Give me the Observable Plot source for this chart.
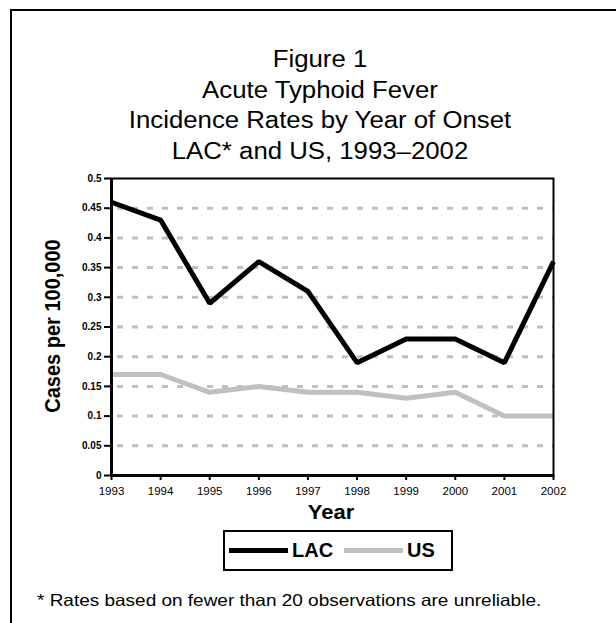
<!DOCTYPE html>
<html>
<head>
<meta charset="utf-8">
<script src="https://cdn.jsdelivr.net/npm/d3@7"></script>
<script src="https://cdn.jsdelivr.net/npm/@observablehq/plot@0.6"></script>
<style>
  html, body { margin: 0; padding: 0; background: #fff; }
  body { width: 616px; height: 623px; overflow: hidden; position: relative; font-family: "Liberation Sans", Arial, sans-serif; }
  #card { position: absolute; left: 10px; top: 9px; width: 640px; height: 640px; border-left: 2px solid #000; border-top: 2px solid #000; box-sizing: border-box; }
  #title { position: absolute; left: 0; width: 640px; top: 44px; text-align: center; font-size: 23px; line-height: 30.5px; color: #000; }
  #title div { transform: scaleX(1.12); transform-origin: 320px 0; }
  #chart { position: absolute; left: 0; top: 0; }
  #ylabel { position: absolute; left: 53px; top: 326px; transform: translate(-50%, -50%) rotate(-90deg) scaleY(1.08); font-weight: bold; font-size: 20px; white-space: nowrap; }
  #xlabel { position: absolute; left: 331px; top: 512px; transform: translate(-50%, -50%) scaleX(1.1); font-weight: bold; font-size: 20px; }
  #legend { position: absolute; left: 223px; top: 530px; width: 230px; height: 41px; border: 2px solid #000; box-sizing: border-box; display: flex; align-items: center; font-weight: bold; font-size: 20px; }
  .sw { display: inline-block; width: 59px; height: 5px; margin-right: 4px; }
  #foot { position: absolute; left: 37px; top: 600px; transform: translateY(-50%) scaleX(1.15); transform-origin: 0 50%; font-size: 16.5px; white-space: nowrap; }
</style>
</head>
<body>
<div id="card"></div>
<div id="chart"></div>
<div id="title"></div>
<div id="ylabel"></div>
<div id="xlabel"></div>
<div id="legend"></div>
<div id="foot"></div>
<script>
const years = [1993, 1994, 1995, 1996, 1997, 1998, 1999, 2000, 2001, 2002];
const lacRates = [0.46, 0.43, 0.29, 0.36, 0.31, 0.19, 0.23, 0.23, 0.19, 0.36];
const usRates = [0.17, 0.17, 0.14, 0.15, 0.14, 0.14, 0.13, 0.14, 0.10, 0.10];
const yTicks = [0, 0.05, 0.1, 0.15, 0.2, 0.25, 0.3, 0.35, 0.4, 0.45, 0.5];
const gridLines = [0.05, 0.1, 0.15, 0.2, 0.25, 0.3, 0.35, 0.4, 0.45];
const seriesNames = ["LAC", "US"];
const seriesColors = ["#000000", "#c0c0c0"];
const titleLines = ["Figure 1", "Acute Typhoid Fever", "Incidence Rates by Year of Onset", "LAC* and US, 1993–2002"];
const yTitle = "Cases per 100,000";
const xTitle = "Year";
const footnote = "* Rates based on fewer than 20 observations are unreliable.";

const rows = [];
years.forEach((y, i) => {
  rows.push({year: y, rate: lacRates[i], series: "LAC"});
  rows.push({year: y, rate: usRates[i], series: "US"});
});

const chart = Plot.plot({
  width: 616,
  height: 623,
  marginLeft: 111,
  marginRight: 63,
  marginTop: 178,
  marginBottom: 148,
  style: {background: "transparent", color: "#000", fontFamily: "Liberation Sans, Arial, sans-serif"},
  x: {domain: [1993, 2002]},
  y: {domain: [0, 0.5]},
  color: {domain: seriesNames, range: seriesColors},
  marks: [
    Plot.ruleY(gridLines, {x1: 1993, x2: 2001.88, stroke: "#c0c0c0", strokeWidth: 3, strokeDasharray: "6,9", dx: 6}),
    Plot.line(rows, {x: "year", y: "rate", z: "series", stroke: "series", strokeWidth: 5, strokeLinejoin: "miter", strokeLinecap: "butt"}),
    Plot.frame({stroke: "#000", strokeWidth: 2}),
    Plot.ruleX([1993], {stroke: "#000", strokeWidth: 3}),
    Plot.ruleY([0], {stroke: "#000", strokeWidth: 3}),
    Plot.axisY({ticks: yTicks, tickFormat: d => String(d), tickSize: 7, tickPadding: 3, fontSize: 10, fontWeight: "bold", strokeWidth: 2, label: null}),
    Plot.axisX({ticks: years, tickFormat: d => String(d), tickSize: 5, tickPadding: 6, fontSize: 11.5, strokeWidth: 2, label: null})
  ]
});
document.getElementById("chart").appendChild(chart);

d3.select("#title").selectAll("div").data(titleLines).join("div").text(d => d);
d3.select("#ylabel").text(yTitle);
d3.select("#xlabel").text(xTitle);
d3.select("#foot").text(footnote);

const leg = d3.select("#legend");
seriesNames.forEach((n, i) => {
  leg.append("span").attr("class", "sw").style("background", seriesColors[i]).style("margin-left", i === 0 ? "4px" : "11px");
  leg.append("span").text(n);
});
</script>
</body>
</html>
